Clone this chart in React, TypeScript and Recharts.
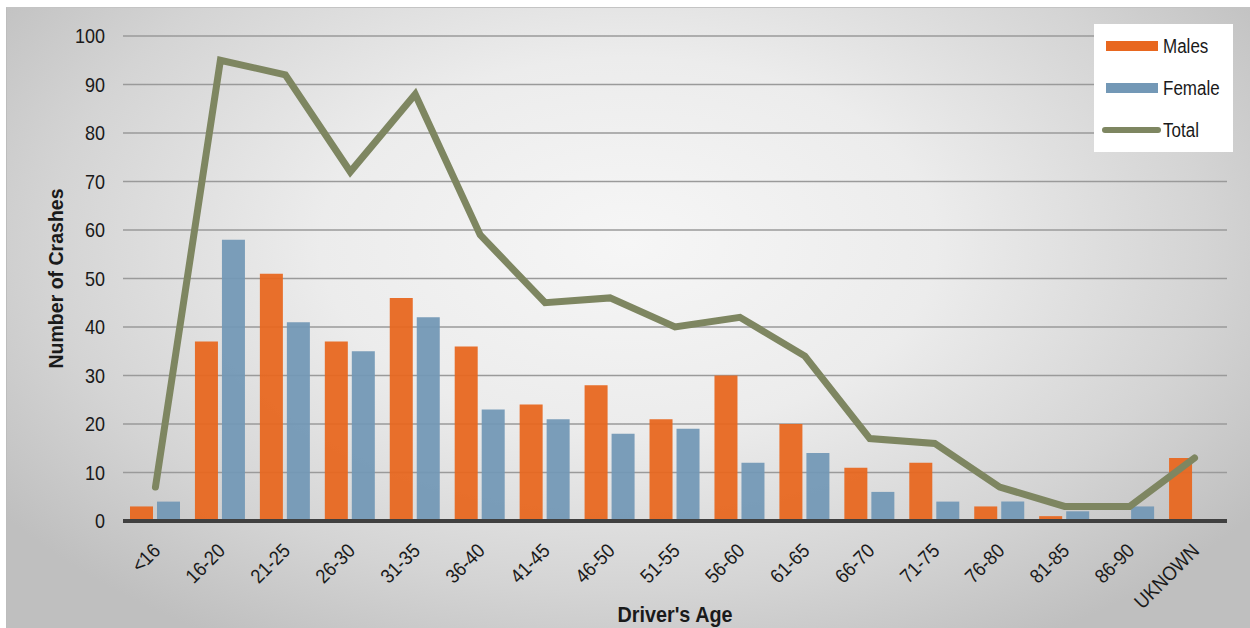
import React from 'react';
import { ComposedChart, Bar, Line, XAxis, YAxis, CartesianGrid, Legend } from 'recharts';

const ageGroups = ['<16', '16-20', '21-25', '26-30', '31-35', '36-40', '41-45', '46-50', '51-55', '56-60', '61-65', '66-70', '71-75', '76-80', '81-85', '86-90', 'UKNOWN'];
const males = [3, 37, 51, 37, 46, 36, 24, 28, 21, 30, 20, 11, 12, 3, 1, 0, 13];
const females = [4, 58, 41, 35, 42, 23, 21, 18, 19, 12, 14, 6, 4, 4, 2, 3, 0];
const totals = [7, 95, 92, 72, 88, 59, 45, 46, 40, 42, 34, 17, 16, 7, 3, 3, 13];
const yTicks = [0, 10, 20, 30, 40, 50, 60, 70, 80, 90, 100];

const data = ageGroups.map((age, i) => ({ age, males: males[i], female: females[i], total: totals[i] }));

// narrow sans look: regular sans squeezed horizontally
const FONT = "'Liberation Sans', Arial, sans-serif";
const INK = '#1a1a1a';
const ORANGE = '#e8671f';
const BLUE = '#7398b6';
const OLIVE = '#7e8661';

const AgeTick = (props: any) => {
  const { x, y, payload } = props;
  const ax = x + 6;
  const ay = y + 23;
  return (
    <text transform={`translate(${ax}, ${ay}) rotate(-45) scale(0.9, 1)`} textAnchor="end" fontSize={20} fontFamily={FONT} fill={INK}>
      {payload.value}
    </text>
  );
};

const CountTick = (props: any) => {
  const { x, y, payload } = props;
  return (
    <text transform={`translate(${x}, ${y}) scale(0.9, 1)`} textAnchor="end" dy="0.355em" fontSize={20} fontFamily={FONT} fill={INK}>
      {payload.value}
    </text>
  );
};

const YTitle = (props: any) => {
  const { viewBox } = props;
  const cx = 55;
  const cy = viewBox.y + viewBox.height / 2;
  return (
    <text transform={`translate(${cx}, ${cy}) rotate(-90) scale(0.93, 1)`} textAnchor="middle" dy="0.36em" fontSize={21} fontWeight="bold" fontFamily={FONT} fill={INK}>
      Number of Crashes
    </text>
  );
};

const XTitle = (props: any) => {
  const { viewBox } = props;
  const cx = viewBox.x + viewBox.width / 2;
  return (
    <text transform={`translate(${cx}, 622) scale(0.9, 1)`} textAnchor="middle" fontSize={22} fontWeight="bold" fontFamily={FONT} fill={INK}>
      Driver's Age
    </text>
  );
};

const legendItems = [
  { name: 'Males', color: ORANGE, kind: 'bar' },
  { name: 'Female', color: BLUE, kind: 'bar' },
  { name: 'Total', color: OLIVE, kind: 'line' },
];

const LegendBox = () => (
  <div style={{ width: 139, height: 128, background: '#fff', fontFamily: FONT, fontSize: 20, color: INK }}>
    {legendItems.map((item, i) => (
      <div key={item.name} style={{ position: 'absolute', top: 10 + i * 42, left: 8, display: 'flex', alignItems: 'center', height: 24 }}>
        {item.kind === 'bar' ? (
          <div style={{ width: 52, height: 10, background: item.color, marginLeft: 4 }} />
        ) : (
          <div style={{ width: 59, height: 6, background: item.color, borderRadius: 3 }} />
        )}
        <span style={{ marginLeft: item.kind === 'bar' ? 5 : 2, display: 'inline-block', transform: 'scaleX(0.85)', transformOrigin: 'left center' }}>
          {item.name}
        </span>
      </div>
    ))}
  </div>
);

export default function App() {
  return (
    <div style={{ position: 'absolute', left: 0, top: 0, width: 1250, height: 628, background: '#fff' }}>
      <div
        style={{
          position: 'absolute',
          left: 6,
          top: 7,
          right: 0,
          bottom: 0,
          borderTop: '1px solid #c4c4c4',
          borderLeft: '1px solid #bdbdbd',
          background: 'radial-gradient(ellipse 62% 75% at 50% 38%, #f6f6f6 0%, #ececec 40%, #d4d4d4 75%, #bfbfbf 100%)',
        }}
      />
      <ComposedChart
        width={1250}
        height={628}
        data={data}
        margin={{ top: 36, right: 23, bottom: 7, left: 0 }}
        style={{ position: 'absolute', left: 0, top: 0 }}
      >
        <CartesianGrid vertical={false} stroke="#9a9a9a" strokeWidth={1.5} />
        <XAxis
          dataKey="age"
          interval={0}
          height={100}
          tickLine={false}
          axisLine={{ stroke: '#404040', strokeWidth: 4 }}
          tick={<AgeTick />}
          label={<XTitle />}
        />
        <YAxis
          width={123}
          domain={[0, 100]}
          ticks={yTicks}
          interval={0}
          axisLine={false}
          tickLine={false}
          tickSize={0}
          tickMargin={18}
          tick={<CountTick />}
          label={<YTitle />}
        />
        <Legend
          layout="vertical"
          verticalAlign="middle"
          align="center"
          content={<LegendBox />}
          wrapperStyle={{ position: 'absolute', left: 1094, top: 24, width: 139, height: 128 }}
        />
        <Bar dataKey="males" name="Males" fill={ORANGE} fillOpacity={0.94} barSize={23} isAnimationActive={false} />
        <Bar dataKey="female" name="Female" fill={BLUE} fillOpacity={0.94} barSize={23} isAnimationActive={false} />
        <Line dataKey="total" name="Total" stroke={OLIVE} strokeWidth={7} strokeLinecap="round" dot={false} activeDot={false} type="linear" isAnimationActive={false} />
      </ComposedChart>
    </div>
  );
}
